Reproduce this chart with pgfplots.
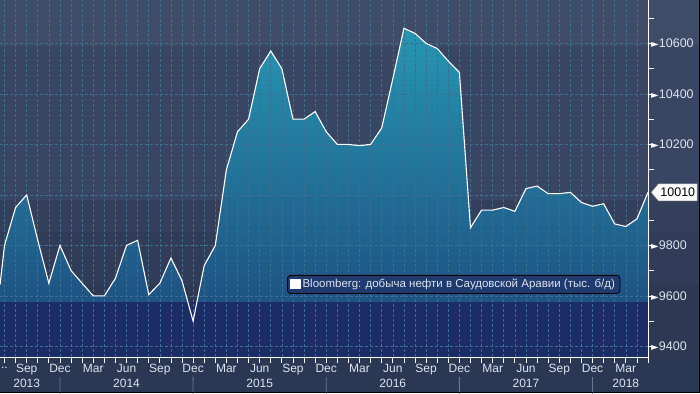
\documentclass[border=0pt]{standalone}
\usepackage{fontspec}
\setmainfont{Liberation Sans}
\newfontfamily\dejavu{DejaVu Sans}
\usepackage{pgfplots}
\usepackage{pgfplotstable}
\pgfplotsset{compat=1.18}
\usepgfplotslibrary{fillbetween}
\usetikzlibrary{shapes.symbols}
\definecolor{bgA}{HTML}{3E4C68}
\definecolor{bgB}{HTML}{384563}
\definecolor{bgC}{HTML}{333F5B}
\definecolor{bgD}{HTML}{313D58}
\definecolor{bgE}{HTML}{2D3852}
\definecolor{bgF}{HTML}{2B3854}
\definecolor{navyband}{HTML}{1B2C66}
\definecolor{fillTop}{HTML}{2796B3}
\definecolor{fillMid}{HTML}{1F5C8B}
\definecolor{fillBot}{HTML}{1C4579}
\definecolor{gridc}{HTML}{3B6F90}
\definecolor{labelc}{HTML}{DDE3EE}
\definecolor{legfill}{HTML}{1E3A6E}
\definecolor{sepc}{HTML}{6C7892}

\pgfdeclarelayer{bglayer}
\pgfplotsset{layers/mylayers/.define layer set={bglayer,axis background,axis grid,axis ticks,axis lines,axis tick labels,pre main,main,axis descriptions,axis foreground}{}}

\pgfplotstableread{
x y
0.6 9645
1 9800
2 9950
3 10000
4 9820
5 9650
6 9800
7 9700
8 9650
9 9600
10 9600
11 9670
12 9800
13 9820
14 9605
15 9650
16 9750
17 9660
18 9500
19 9720
20 9800
21 10100
22 10250
23 10300
24 10500
25 10570
26 10500
27 10300
28 10300
29 10330
30 10250
31 10200
32 10200
33 10195
34 10200
35 10265
36 10460
37 10660
38 10640
39 10600
40 10580
41 10530
42 10485
43 9870
44 9940
45 9940
46 9950
47 9935
48 10025
49 10035
50 10005
51 10005
52 10010
53 9970
54 9955
55 9965
56 9885
57 9875
58 9905
59 10010
}\oildata

\tikzset{yrlab/.style={text=labelc, font=\fontsize{12}{14}\selectfont, anchor=center}}

\begin{document}
\begin{tikzpicture}[x=1pt,y=1pt]
\begin{axis}[
  set layers=mylayers,
  at={(0pt,36pt)}, anchor=south west,
  scale only axis, width=648pt, height=357pt,
  xmin=0.595, xmax=59, ymin=9358, ymax=10772,
  enlargelimits=false, clip=false,
  scaled y ticks=false, scaled x ticks=false,
  axis x line*=bottom, axis y line*=right,
  axis line style={white, line width=0.9pt},
  xtick={3,6,...,57},
  xticklabels={Sep,Dec,Mar,Jun,Sep,Dec,Mar,Jun,Sep,Dec,Mar,Jun,Sep,Dec,Mar,Jun,Sep,Dec,Mar},
  minor xtick={1,...,59},
  ytick={9400,9600,9800,10200,10400,10600},
  minor ytick={9500,9700,...,10700},
  extra y ticks={10000},
  extra y tick labels={},
  extra y tick style={major tick length=0pt, grid=major},
  xmajorgrids, xminorgrids, ymajorgrids,
  major grid style={gridc, line width=0.6pt, dash pattern=on 3pt off 2pt},
  minor grid style={gridc, line width=0.6pt, dash pattern=on 3pt off 2pt},
  tick align=outside,
  major tick length=4pt, minor tick length=6pt,
  tick style={white, line width=0.8pt},
  xticklabel style={text=labelc, font=\fontsize{12}{14}\selectfont, anchor=north, inner sep=0pt, yshift=-3pt},
  yticklabel style={text=labelc, font=\fontsize{12.5}{14}\selectfont, anchor=west, inner sep=0pt, xshift=-1pt},
  yticklabel={{\dejavu\color{white}\fontsize{10}{10}\selectfont\char"25BA}\pgfmathprintnumber[1000 sep={},fixed,precision=0,assume math mode=true]{\tick}},
  legend style={at={(0.443,0.2297)}, anchor=north west, fill=legfill, draw=black, line width=0.8pt, rounded corners=3pt, text=labelc, font=\fontsize{11.5}{13}\selectfont, inner xsep=3pt, inner ysep=2pt},
  legend image code/.code={\fill[white, sharp corners] (0pt,-4.5pt) rectangle (9pt,4.5pt);},
]
\addplot[name path=oil, white, line width=1.1pt] table[x=x,y=y] {\oildata};
\addlegendentry{Bloomberg: добыча нефти в Саудовской Аравии (тыс. б/д)}
\addplot[name path=base, draw=none, forget plot] coordinates {(0.6,9358) (59,9358)};
\addplot[top color=fillTop, middle color=fillMid, bottom color=fillBot, forget plot] fill between[of=oil and base, on layer=axis background];
\begin{pgfonlayer}{axis background}
\fill[navyband] (axis cs:0.595,9358) rectangle (axis cs:59,9576);
\end{pgfonlayer}
\node[yrlab] at ([yshift=-26pt]axis cs:3,9358) {2013};
\node[yrlab] at ([yshift=-26pt]axis cs:12,9358) {2014};
\node[yrlab] at ([yshift=-26pt]axis cs:24,9358) {2015};
\node[yrlab] at ([yshift=-26pt]axis cs:36,9358) {2016};
\node[yrlab] at ([yshift=-26pt]axis cs:48,9358) {2017};
\node[yrlab] at ([yshift=-26pt]axis cs:57,9358) {2018};
\draw[sepc, line width=0.8pt] ([yshift=-20pt]axis cs:6,9358) -- ++(0,-16pt);
\draw[sepc, line width=0.8pt] ([yshift=-20pt]axis cs:18,9358) -- ++(0,-16pt);
\draw[sepc, line width=0.8pt] ([yshift=-20pt]axis cs:30,9358) -- ++(0,-16pt);
\draw[sepc, line width=0.8pt] ([yshift=-20pt]axis cs:42,9358) -- ++(0,-16pt);
\draw[sepc, line width=0.8pt] ([yshift=-20pt]axis cs:54,9358) -- ++(0,-16pt);
\node[yrlab] at ([yshift=-11pt]axis cs:1,9358) {..};
\node[signal, signal to=west, signal pointer angle=100, fill=white, draw=black!40, line width=0.4pt, text=black, font=\fontsize{12.5}{14}\selectfont, minimum height=17pt, inner xsep=2pt, inner ysep=1pt, anchor=west] at ([xshift=3pt]axis cs:59,10010) {10010};
\end{axis}
\begin{pgfonlayer}{bglayer}
\fill[bgA] (0,347) rectangle (700,393);
\fill[bgB] (0,193) rectangle (700,347);
\fill[bgC] (0,161) rectangle (700,193);
\fill[bgD] (0,108) rectangle (700,161);
\fill[bgE] (0,36) rectangle (700,108);
\fill[bgF] (0,0) rectangle (700,36);
\end{pgfonlayer}
\draw[black, line width=1pt] (0,0.5) -- (699.5,0.5) -- (699.5,393);
\pgfresetboundingbox
\path[use as bounding box] (0,0) rectangle (700,393);
\end{tikzpicture}
\end{document}
